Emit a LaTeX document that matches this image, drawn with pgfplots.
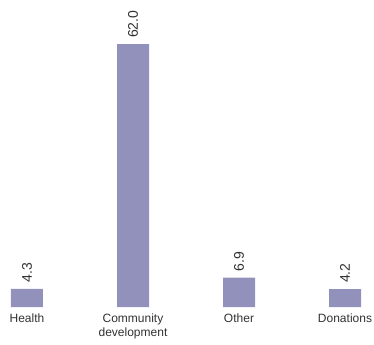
\documentclass[border=0pt]{standalone}
\usepackage{pgfplots}
\pgfplotsset{compat=1.18}
\usepackage{fontspec}
\setmainfont{Liberation Sans}
\definecolor{barc}{RGB}{145,145,188}
\definecolor{txt}{RGB}{50,50,50}
\begin{document}
\begin{tikzpicture}
\begin{axis}[
  scale only axis,
  width=374bp, height=307bp,
  xmin=-0.2547, xmax=3.2736,
  ymin=0, ymax=72.4,
  axis line style={draw=none},
  tick style={draw=none},
  ytick=\empty,
  xtick={0,1,2,3},
  xticklabels={Health,Community\\development,Other,Donations},
  xticklabel style={align=center, font=\fontsize{12bp}{14bp}\selectfont, text=txt, yshift=1bp},
  ybar, bar width=32bp,
  nodes near coords,
  nodes near coords style={rotate=90, anchor=west, inner xsep=6bp, inner ysep=0pt, font=\fontsize{14bp}{16bp}\selectfont, text=txt,
    /pgf/number format/.cd, fixed, fixed zerofill, precision=1, assume math mode=true},
  clip=false,
]
\addplot[fill=barc, draw=none] coordinates {(0,4.3) (1,62.0) (2,6.9) (3,4.2)};
\end{axis}
\pgfresetboundingbox
\path (current axis.south west) ++(0,-38bp) rectangle (current axis.north east);
\end{tikzpicture}
\end{document}
